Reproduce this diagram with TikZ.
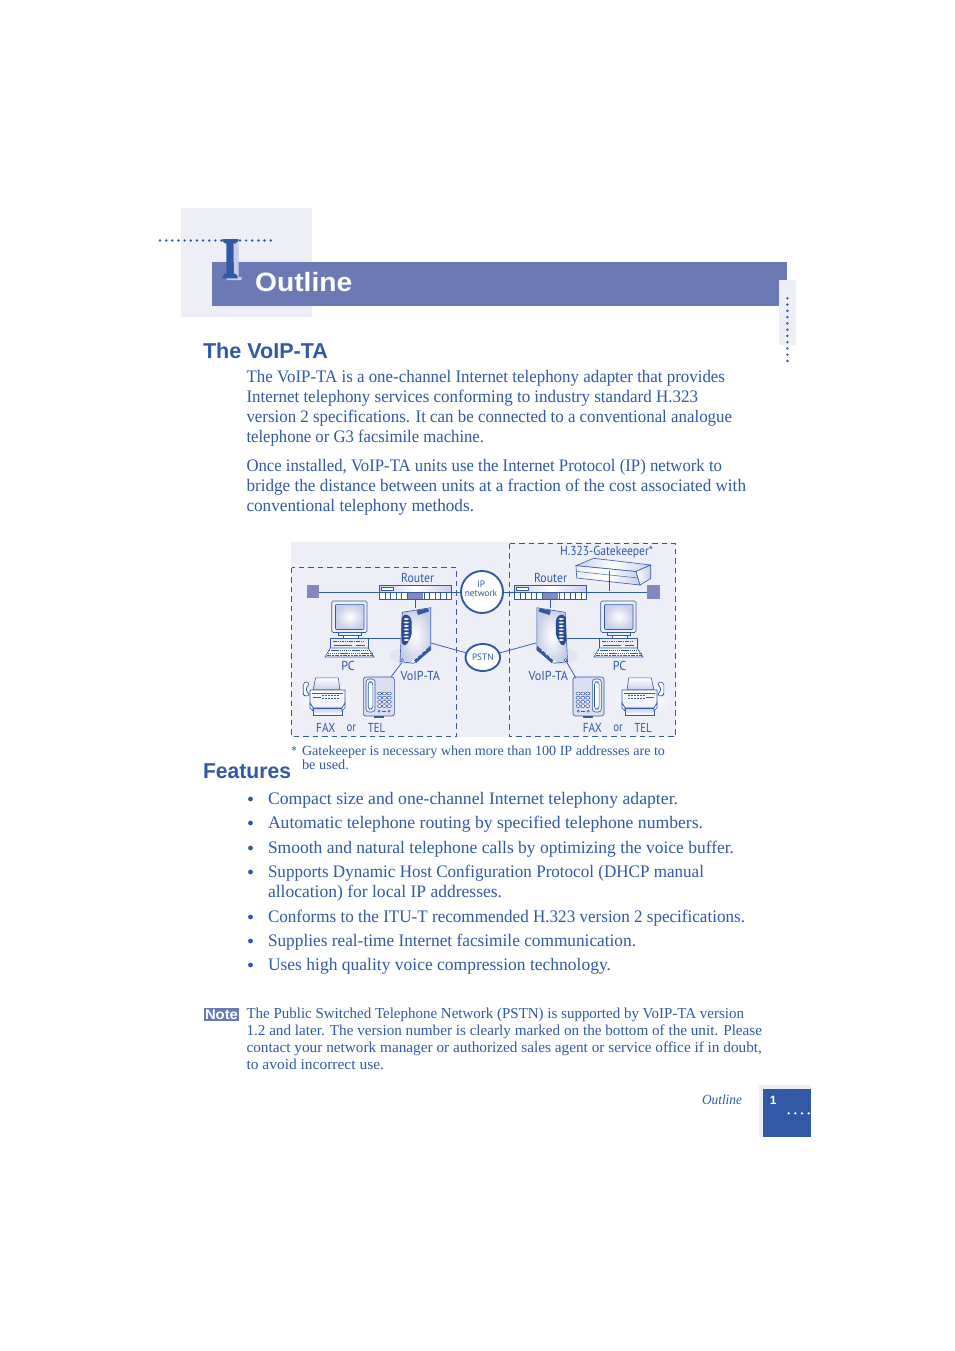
\documentclass[tikz,border=0pt]{standalone}
\usepackage{fontspec}
\usepackage{graphicx}
\usetikzlibrary{shapes.geometric}
\setmainfont{Liberation Serif}
\newfontfamily\headfont{Liberation Sans}
\newfontfamily\labfont{PT Sans}
\definecolor{ink}{HTML}{3159A6}
\definecolor{bar}{HTML}{6B7AB5}
\definecolor{pale}{HTML}{EEEEF7}
\definecolor{mid}{HTML}{C9CEE8}
\definecolor{slate}{HTML}{8189BF}
\tikzset{
 txt/.style={anchor=base west,inner sep=0pt,outer sep=0pt,text=ink},
 lab/.style={inner sep=0pt,outer sep=0pt,text=ink,font=\labfont\fontsize{13}{14}\selectfont},
 wire/.style={draw=ink,line width=.75pt},
 ico/.style={draw=ink,line width=.6pt},
 dash box/.style={draw=ink,line width=.75pt,dash pattern=on 5.5pt off 4pt},
 cloud/.style={draw=ink,line width=1.9pt,fill=white,inner sep=0pt,text=ink,font=\labfont\fontsize{9.3}{10}\selectfont,align=center},
 glow/.style={inner color=white,outer color=pale,draw=none},
 screenfill/.style={inner color=white,outer color=mid},
 holder/.style={inner sep=0pt,outer sep=0pt,draw=none,rectangle},
 dotmark/.style={fill=ink,draw=none},
}
% text line: name, x, baseline y, right end x, text (font from the enclosing scope)
\newcommand\tl[5]{\node[txt] (#1) at (#2,#3) {\resizebox{\dimexpr#4pt-#2pt\relax}{\height}{#5}};}
\newcommand\lbl[5]{\node[lab] (#1) at (#2,#3) {\resizebox{#4pt}{\height}{#5}};}
\newcommand\routericon[2]{%
 \node[holder,minimum width=72.4pt,minimum height=14pt,fill=none] (#1) at (#2,592) {};
 \begin{scope}[shift={(#2-415.5,0)}]
  \shade[left color=mid,right color=mid,middle color=white] (379.3,585) rectangle (451.7,592);
  \fill[white] (379.3,592.5) rectangle (451.7,599);
  \fill[slate] (407.7,592.5) rectangle (423.3,599);
  \draw[ico] (379.3,585) rectangle (451.7,599);
  \draw[ico] (379.3,592.5) -- (451.7,592.5);
  \draw[ico,line width=.4pt,fill=white] (381,587) rectangle (393.3,590);
  \foreach \i in {1,...,5,8,9,...,12}{\draw[ico,line width=.45pt] (379.3+\i*5.57,592.5) -- (379.3+\i*5.57,599);}
 \end{scope}}
\newcommand\pcicon[2]{%
 \begin{scope}[xshift=#2pt]
  \draw[ico,fill=pale] (338,632) rectangle (361,635);
  \draw[ico,fill=white] (343,635) rectangle (358,638.4);
  \draw[ico,fill=pale,rounded corners=1.5pt] (331.7,601) rectangle (367,632.5);
  \draw[ico,screenfill,rounded corners=1pt] (335.5,604.3) rectangle (364,629.5);
  \node[holder,draw=ink,line width=.6pt,fill=pale,minimum width=37.5pt,minimum height=9.5pt] (#1) at (349.25,643.25) {};
  \draw[ink,line width=.9pt,dash pattern=on 1.5pt off .8pt] (333,641) -- (365,641);
  \draw[ink,line width=.5pt] (334,645.5) -- (352,645.5) (356,645) -- (365,645);
  \draw[ico,fill=white] (330.3,648) -- (368,648) -- (374,657) -- (325,657) -- cycle;
  \draw[ink,line width=1pt,dash pattern=on 1.4pt off .7pt] (329,650.2) -- (370,650.2);
  \draw[ink,line width=1pt,dash pattern=on 1.4pt off .7pt] (327.5,653) -- (372,653);
  \draw[ink,line width=.7pt,dash pattern=on 2pt off .7pt] (326.5,655.5) -- (373,655.5);
 \end{scope}}
\newcommand\voipicon[2]{%
 \begin{scope}[#2]
  \fill[pale!70!mid] (404,656) ellipse (14 and 8);
  \node[holder,minimum width=30.7pt,minimum height=55.6pt] (#1) at (416,635.5) {};
  \shade[ico,inner color=white,outer color=mid] (402.3,612.3) -- (430.7,607.7) -- (430.7,650) -- (413.3,663.3) -- (400,661.7) -- cycle;
  \fill[ink!85!black,rounded corners=3pt] (401.5,617) -- (406,613.5) -- (411.5,618) -- (411.8,635) -- (406,646) -- (401.7,644.5) -- cycle;
  \foreach \yy in {619,622.5,...,641}{\fill[white!70!mid] (406.3,\yy) ellipse (2.6 and .9);}
  \fill[ink] (416.5,610.5) -- (428,608.5) -- (429,611.5) -- (418,615) -- cycle;
  \fill[ink] (414,660.5) -- (430,646) -- (431,649.5) -- (416,663) -- cycle;
  \foreach \xx/\yy in {417/657.5,421/654,425/650.5}{\fill[white] (\xx,\yy) circle (.8);}
  \fill[white] (413.3,661.5) circle (1.6);
  \draw[ico,fill=white] (402,660) circle (1.5);
 \end{scope}}
\newcommand\faxicon[2]{%
 \begin{scope}[#2]
  \shade[glow] (324.3,698.3) ellipse (30 and 18.5);
  \node[holder,minimum width=42pt,minimum height=38pt] (#1) at (324,696) {};
  \draw[ico,fill=white,rounded corners=1.5pt] (303.2,694.5) -- (303.2,683.5) -- (306,681.7) -- (309,682.5) -- (309,685.5) -- (306.5,686.5) -- (306.5,692) -- (309,693) -- (309,695.8) -- (305,696) -- cycle;
  \shade[ico,top color=white,bottom color=mid] (315.7,677.8) -- (338.3,677.8) -- (340,690) -- (313,690) -- cycle;
  \shade[ico,top color=white,bottom color=pale] (310,690) -- (345,690) -- (345,703) -- (342,708) -- (313,708) -- (310,703) -- cycle;
  \draw[ink,line width=.5pt] (312,693) -- (343,693);
  \draw[ink,line width=.5pt] (313,697) -- (321,697);
  \foreach \xx in {322,325,328,331,334,337}{\fill[ink] (\xx,694.5) rectangle (\xx+2,696.2);\fill[ink] (\xx,697.5) rectangle (\xx+2,699.2);}
  \shade[ico,top color=mid,bottom color=white] (313,708) -- (342,708) -- (342,715) -- (313,715) -- cycle;
  \draw[ico,fill=white] (310,703) -- (313,708) -- (313,711) -- (310,708) -- cycle;
  \draw[ico,fill=white] (345,703) -- (342,708) -- (342,711) -- (345,708) -- cycle;
 \end{scope}}
\newcommand\telicon[2]{%
 \begin{scope}[#2]
  \shade[glow] (378.8,716.7) ellipse (21 and 2.5);
  \node[holder,minimum width=31pt,minimum height=39pt,draw=ink,line width=.6pt,rounded corners=2.5pt,fill=mid!65!white] (#1) at (378.8,696.5) {};
  \draw[ico,fill=pale,rounded corners=3pt] (366,679) rectangle (375,712);
  \draw[ico,fill=white,rounded corners=2.5pt] (368.2,682) rectangle (372.8,709);
  \fill[ink] (374,716) rectangle (384,717.8);
  \foreach \yy in {693.5,697.7,701.9,706.1}{\foreach \xx in {379.6,384.4,389.2}{\draw[ink,line width=.55pt,fill=white] (\xx,\yy) ellipse (2.1 and 1.4);}}
  \draw[ink,line width=.5pt] (379,711.2) circle (1.1) (389,711.2) circle (1.1);
  \draw[ink,line width=.5pt] (382,711.2) -- (386,711.2);
 \end{scope}}
\begin{document}
\begin{tikzpicture}[x=1pt,y=-1pt]
\useasboundingbox[fill=white] (0,0) rectangle (954,1351);
% chapter header
\fill[pale] (181,208) rectangle (312,317);
\fill[pale] (779,280) rectangle (796,345);
\node[holder,fill=bar,minimum width=575pt,minimum height=44pt,anchor=north west] (headerbar) at (212,262) {};
\fill[pale] (779,280) rectangle (787,306);
\foreach \i in {0,...,18}{\fill[dotmark] (160+\i*6.15,240.5) circle (1.35);}
\foreach \i in {0,...,10}{\fill[dotmark] (787.4,298.3+\i*6.27) circle (1.35);}
% chapter letter with its shadow and slab serifs
\fill[mid] (234,243) rectangle (238.5,278) (226.7,277) rectangle (241.7,280);
\node[anchor=base,inner sep=0pt,text=ink,font=\headfont\bfseries\fontsize{53}{53}\selectfont] (chapnum) at (230,277.5) {\resizebox{14pt}{\height}{I}};
\fill[ink] (222.7,239) -- (238.3,239) -- (238.3,241.5) -- (235,243.5) -- (225.5,243.5) -- (222.7,241.5) -- cycle;
\fill[ink] (225.5,273.5) -- (235,273.5) -- (237.5,276) -- (237.5,278.3) -- (222.7,278.3) -- (222.7,276) -- cycle;
\begin{scope}[font=\headfont\bfseries\fontsize{26.5}{28}\selectfont]
 \node[anchor=base west,inner sep=0pt,text=white] (title) at (255,291.5) {\resizebox{97pt}{\height}{Outline}};
\end{scope}
\begin{scope}[font=\headfont\bfseries\fontsize{21.5}{24}\selectfont]
 \tl{h1}{203}{358.5}{328}{The VoIP-TA}
 \tl{h2}{203}{778.5}{291}{Features}
\end{scope}
% body text
\begin{scope}[font=\fontsize{17.6}{20}\selectfont]
 \tl{b1}{246.5}{382}{725}{The VoIP-TA is a one-channel Internet telephony adapter that provides}
 \tl{b2}{246.5}{402}{698}{Internet telephony services conforming to industry standard H.323}
 \tl{b3}{246.5}{422}{732}{version 2 specifications. It can be connected to a conventional analogue}
 \tl{b4}{246.5}{442}{484}{telephone or G3 facsimile machine.}
 \tl{b5}{246.5}{471}{722}{Once installed, VoIP-TA units use the Internet Protocol (IP) network to}
 \tl{b6}{246.5}{491}{746}{bridge the distance between units at a fraction of the cost associated with}
 \tl{b7}{246.5}{511}{474}{conventional telephony methods.}
 \tl{f1}{268}{804}{678}{Compact size and one-channel Internet telephony adapter.}
 \tl{f2}{268}{828}{703}{Automatic telephone routing by specified telephone numbers.}
 \tl{f3}{268}{853}{734}{Smooth and natural telephone calls by optimizing the voice buffer.}
 \tl{f4}{268}{877}{704}{Supports Dynamic Host Configuration Protocol (DHCP manual}
 \tl{f4b}{268}{897}{502}{allocation) for local IP addresses.}
 \tl{f5}{268}{922}{745}{Conforms to the ITU-T recommended H.323 version 2 specifications.}
 \tl{f6}{268}{946}{636}{Supplies real-time Internet facsimile communication.}
 \tl{f7}{268}{970}{611}{Uses high quality voice compression technology.}
\end{scope}
\foreach \yy in {799,823,848,872,917,941,965}{\fill[dotmark] (250.5,\yy) circle (2.4);}
% diagram
\fill[pale] (291,542) rectangle (676,737);
\draw[dash box] (291.5,567.5) rectangle (456.5,736.5);
\draw[dash box] (509.5,543.5) rectangle (675.7,736.5);
\node[holder,fill=slate,minimum width=12pt,minimum height=13.5pt] (sqL) at (313,591.7) {};
\node[holder,fill=slate,minimum width=13pt,minimum height=13.5pt] (sqR) at (653.5,592.2) {};
\node[cloud,circle,minimum size=42pt] (ipnet) at (482,592) {};
\node[inner sep=0pt,text=ink,font=\labfont\fontsize{9.3}{10}\selectfont,align=center] (iptext) at (481,589) {IP\\[-.5pt]network};
\node[cloud,ellipse,minimum width=34.5pt,minimum height=27pt] (pstn) at (482.8,657.5) {PSTN};
\routericon{routerL}{415.5}
\routericon{routerR}{550.5}
\pcicon{pcL}{0}
\pcicon{pcR}{269}
\coordinate (gkfoot) at (609.5,591);
\draw[wire] (sqL.east|-routerL) -- (routerL.west);
\draw[wire] (routerL.east) -- (ipnet);
\draw[wire] (ipnet) -- (routerR.west);
\draw[wire] (routerR.east) -- (sqR.west|-routerR);
% gatekeeper
\node[holder,minimum width=75pt,minimum height=27pt] (gatekeeper) at (610,570) {};
\shade[ico,left color=mid,right color=mid,middle color=white] (576,565.7) -- (593.5,558.3) -- (650.7,565) -- (636,571.5) -- cycle;
\shade[ico,left color=pale,right color=mid,middle color=white] (576,565.7) -- (636,571.5) -- (640,585) -- (576.7,578) -- cycle;
\shade[ico,left color=white,right color=mid] (636,571.5) -- (650.7,565) -- (650.7,578.5) -- (640,585) -- cycle;
\draw[ico,line width=.45pt] (577,571.5) -- (638,578);
\draw[wire] (gatekeeper.south-|gkfoot) ++(0,-13) -- (gkfoot);
% terminals
\voipicon{voipL}{}
\voipicon{voipR}{xscale=-1,xshift=-967.5pt}
\faxicon{faxL}{}
\faxicon{faxR}{xscale=-1,xshift=-967pt}
\telicon{telL}{}
\telicon{telR}{xscale=-1,xshift=-967.3pt}
\coordinate (portPL) at (431,643);
\coordinate (portPR) at (536,643);
\coordinate (portTL) at (401.5,663);
\coordinate (telTL) at (391,677);
\coordinate (portTR) at (566,661);
\coordinate (telTR) at (576,678);
\draw[wire] (routerL.south) -- (routerL.south|-voipL.north);
\draw[wire] (routerR.south) -- (routerR.south|-voipR.north);
\draw[wire] (pcL.north east) -- (pcL.north east-|voipL.west);
\draw[wire] (pcR.north west) -- (pcR.north west-|voipR.east);
\draw[wire] (portPL) -- (pstn);
\draw[wire] (portPR) -- (pstn);
\draw[wire] (portTL) -- (telTL);
\draw[wire] (portTR) -- (telTR);
% diagram labels
\lbl{lrL}{417.7}{578}{33}{Router}
\lbl{lrR}{550.5}{578}{33}{Router}
\lbl{lgk}{606.5}{552.5}{93}{H.323-Gatekeeper*}
\lbl{lpcL}{348}{666}{13.5}{PC}
\lbl{lpcR}{619.5}{666}{13.5}{PC}
\lbl{lvL}{420.3}{676}{39.5}{VoIP-TA}
\lbl{lvR}{548.3}{676}{39.5}{VoIP-TA}
\lbl{lfL}{325.7}{727.5}{19}{FAX}
\lbl{lorL}{351.3}{728}{9.5}{or}
\lbl{ltL}{376.5}{727.5}{17.5}{TEL}
\lbl{lfR}{592.3}{727.5}{19}{FAX}
\lbl{lorR}{618}{728}{9.5}{or}
\lbl{ltR}{643}{727.5}{17.5}{TEL}
% footnote
\begin{scope}[font=\fontsize{14}{15}\selectfont]
 \tl{fnstar}{291.5}{755}{296.5}{*}
 \tl{fn1}{302}{755}{665}{Gatekeeper is necessary when more than 100 IP addresses are to}
 \tl{fn2}{302}{769}{349}{be used.}
\end{scope}
% note
\node[holder,fill=bar,text=white,font=\headfont\bfseries\fontsize{14}{14}\selectfont,minimum width=35pt,minimum height=13pt] (notetag) at (221.5,1014.5) {\resizebox{33pt}{\height}{Note}};
\begin{scope}[font=\fontsize{15.2}{17}\selectfont]
 \tl{n1}{246.5}{1018}{744}{The Public Switched Telephone Network (PSTN) is supported by VoIP-TA version}
 \tl{n2}{246.5}{1035}{762}{1.2 and later. The version number is clearly marked on the bottom of the unit. Please}
 \tl{n3}{246.5}{1052}{762}{contact your network manager or authorized sales agent or service office if in doubt,}
 \tl{n4}{246.5}{1069}{384}{to avoid incorrect use.}
\end{scope}
% footer
\begin{scope}[font=\itshape\fontsize{14}{15}\selectfont]
 \tl{foot}{702}{1104}{742}{Outline}
\end{scope}
\fill[pale] (759,1085) rectangle (811,1137);
\node[holder,fill=ink,minimum width=48.3pt,minimum height=47.7pt,anchor=north west] (pagebox) at (762.7,1089) {};
\node[inner sep=0pt,text=white,font=\headfont\bfseries\fontsize{12}{12}\selectfont] (pageno) at (773.3,1100) {1};
\foreach \xx in {788.7,795.3,802,808.7}{\fill[white] (\xx,1113.3) circle (1.3);}
\end{tikzpicture}
\end{document}
